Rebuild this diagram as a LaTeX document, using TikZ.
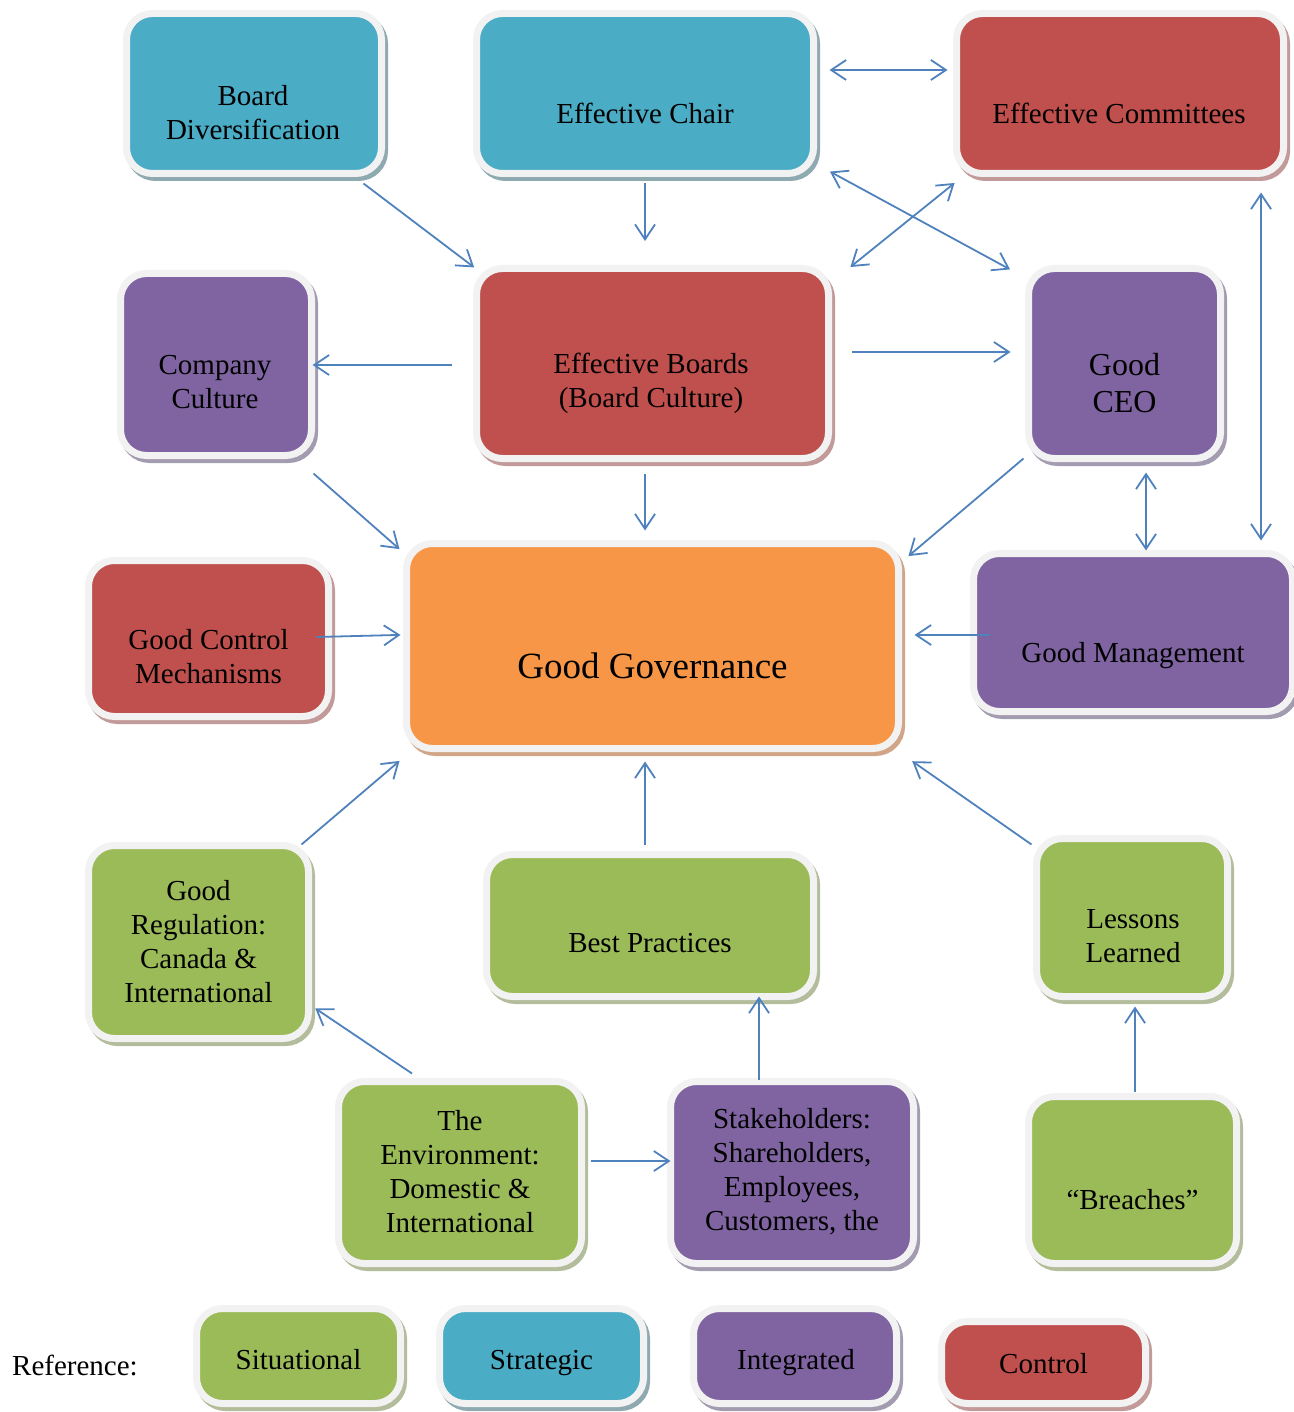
\documentclass[tikz,border=0pt]{standalone}
\usepackage{fontspec}
\setmainfont{Liberation Serif}
\usetikzlibrary{arrows.meta,calc}

\definecolor{cblue}{HTML}{4BACC6}
\definecolor{cred}{HTML}{C0504D}
\definecolor{cpurple}{HTML}{8064A2}
\definecolor{cgreen}{HTML}{9BBB59}
\definecolor{corange}{HTML}{F79646}
\definecolor{sblue}{HTML}{8FA9B1}
\definecolor{sred}{HTML}{C39A9A}
\definecolor{spurple}{HTML}{A39CB0}
\definecolor{sgreen}{HTML}{B3BC9B}
\definecolor{sorange}{HTML}{D1A587}
\definecolor{edgegray}{HTML}{F2F2F2}
\definecolor{linkblue}{HTML}{4F81BD}

\tikzset{
  box/.style n args={4}{rectangle, rounded corners=26pt, draw=edgegray,
    line width=7pt, inner sep=0pt, fill=#1,
    minimum width=#3, minimum height=#4,
    preaction={draw=#2, fill=#2, transform canvas={shift={(3pt,-4pt)}}}},
  txt/.style={align=center, inner sep=0pt,
    font=\fontsize{29}{34}\selectfont},
  midtxt/.style={align=center, inner sep=0pt,
    font=\fontsize{32}{37}\selectfont},
  bigtxt/.style={align=center, inner sep=0pt,
    font=\fontsize{37}{42}\selectfont},
  link/.style={draw=linkblue, line width=1.8pt, shorten >=-4pt,
    >={Straight Barb[length=15pt,width=20pt]}},
  link2/.style={link, shorten <=-4pt},
}

\begin{document}
\begin{tikzpicture}[x=1pt,y=-1pt]
\useasboundingbox (0,0) rectangle (1293,1412);

% ---- top row
\node[box={cblue}{sblue}{255pt}{160pt}] (bd) at (254,93.5) {};
\node[txt] (bdt) at ($(bd.center)+(-1,19)$) {Board\\Diversification};
\node[box={cblue}{sblue}{337pt}{160pt}] (ec) at (645,93.5) {};
\node[txt] (ect) at ($(ec.center)+(0,19.5)$) {Effective Chair};
\node[box={cred}{sred}{327pt}{160pt}] (cm) at (1120,93.5) {};
\node[txt] (cmt) at ($(cm.center)+(-1,19.5)$) {Effective Committees};

% ---- second row
\node[box={cpurple}{spurple}{191pt}{182pt}] (cc) at (216,364.5) {};
\node[txt] (cct) at ($(cc.center)+(-1,17.5)$) {Company\\Culture};
\node[box={cred}{sred}{352pt}{190pt}] (eb) at (652.5,363.5) {};
\node[txt] (ebt) at ($(eb.center)+(-1.5,20)$) {Effective Boards\\(Board Culture)};
\node[box={cpurple}{spurple}{192pt}{190pt}] (ceo) at (1124.5,363.5) {};
\node[midtxt] (ceot) at ($(ceo.center)+(0,19.5)$) {Good\\CEO};

% ---- centre row
\node[box={cred}{sred}{240pt}{156pt}] (gcm) at (208.5,638.5) {};
\node[txt] (gcmt) at ($(gcm.center)+(0,18.5)$) {Good Control\\Mechanisms};
\node[box={corange}{sorange}{492pt}{205pt}] (gg) at (652.5,646) {};
\node[bigtxt] (ggt) at ($(gg.center)+(0,20)$) {Good Governance};
\node[box={cpurple}{spurple}{319pt}{158pt}] (gm) at (1133,632.5) {};
\node[txt] (gmt) at ($(gm.center)+(0,23)$) {Good Management};

% ---- fourth row
\node[box={cgreen}{sgreen}{220pt}{193pt}] (gr) at (198.5,942) {};
\node[txt] (grt) at ($(gr.center)+(0,0)$) {Good\\Regulation:\\Canada \&\\International};
\node[box={cgreen}{sgreen}{327pt}{142pt}] (bp) at (650,925.5) {};
\node[txt] (bpt) at ($(bp.center)+(0,17.5)$) {Best Practices};
\node[box={cgreen}{sgreen}{191pt}{158pt}] (ll) at (1132,917.5) {};
\node[txt] (llt) at ($(ll.center)+(1,18.5)$) {Lessons\\Learned};

% ---- fifth row
\node[box={cgreen}{sgreen}{243pt}{182pt}] (env) at (460,1172.5) {};
\node[txt] (envt) at ($(env.center)+(0,-0.5)$) {The\\Environment:\\Domestic \&\\International};
\node[box={cpurple}{spurple}{243pt}{182pt}] (sh) at (792,1172.5) {};
\node[txt] (sht) at ($(sh.center)+(0,-0.5)$) {Stakeholders:\\Shareholders,\\Employees,\\Customers, the};
\node[box={cgreen}{sgreen}{208pt}{167pt}] (br) at (1132.5,1180) {};
\node[txt] (brt) at ($(br.center)+(0,20)$) {“Breaches”};

% ---- legend
\node[txt, anchor=west] (ref) at (12,1365) {Reference:};
\node[box={cgreen}{sgreen}{204pt}{95pt}] (sit) at (298.5,1356) {};
\node[txt] (sitt) at ($(sit.center)+(0,4)$) {Situational};
\node[box={cblue}{sblue}{204pt}{95pt}] (str) at (541.5,1356) {};
\node[txt] (strt) at ($(str.center)+(0,7)$) {Strategic};
\node[box={cpurple}{spurple}{203pt}{95pt}] (int) at (795,1356) {};
\node[txt] (intt) at ($(int.center)+(1,7)$) {Integrated};
\node[box={cred}{sred}{204pt}{82pt}] (ctl) at (1043.5,1362.5) {};
\node[txt] (ctlt) at ($(ctl.center)+(0,1.5)$) {Control};

% ---- connectors
\draw[link,->] ($(bd.south east)+(-21.5,6.5)$) -- ($(eb.north west)+(-2,0)$);
\draw[link,->] ($(ec.south)+(0,6.5)$) -- ($(eb.north)+(-7.5,-28)$);
\draw[link2,<->] ($(ec.east)+(16.5,-23.5)$) -- ($(cm.west)+(-9.5,-23.5)$);
\draw[link2,<->] ($(ec.south east)+(16.5,-3.5)$) -- ($(ceo.north west)+(-18.5,2.5)$);
\draw[link2,<->] ($(eb.north east)+(21.5,-0.5)$) -- ($(cm.south west)+(-1.5,8.5)$);
\draw[link2,<->] ($(cm.south)+(141,19.5)$) -- ($(gm.north)+(128,-13.5)$);
\draw[link,->] ($(eb.west)+(-21.5,1.5)$) -- ($(cc.east)+(1.5,0.5)$);
\draw[link,->] ($(eb.east)+(19.5,-11.5)$) -- ($(ceo.west)+(-18.5,-11.5)$);
\draw[link,->] ($(eb.south)+(-7.5,11.5)$) -- ($(gg.north)+(-7.5,-13.5)$);
\draw[link,->] ($(cc.south east)+(-1.5,14.5)$) -- ($(gg.north west)+(-6.5,6.5)$);
\draw[link,->] ($(ceo.south west)+(-1.5,-3.5)$) -- ($(gg.north east)+(9.5,13.5)$);
\draw[link2,<->] ($(ceo.south)+(21.5,14.5)$) -- ($(gm.north)+(13,-3.5)$);
\draw[link,->] ($(gcm.east)+(-15.5,-1.5)$) -- ($(gg.west)+(-6.5,-11)$);
\draw[link,->] ($(gm.west)+(19.5,2.5)$) -- ($(gg.east)+(16.5,-11)$);
\draw[link,->] ($(gr.north east)+(-10.5,2.5)$) -- ($(gg.south west)+(-6.5,11.5)$);
\draw[link,->] ($(bp.north)+(-5,-6.5)$) -- ($(gg.south)+(-7.5,13.5)$);
\draw[link,->] ($(ll.north west)+(-1.5,9.5)$) -- ($(gg.south east)+(13.5,11.5)$);
\draw[link,->] ($(env.north)+(-48,-4.5)$) -- ($(gr.south east)+(6.5,-31.5)$);
\draw[link,->] ($(env.east)+(5.5,-11.5)$) -- ($(sh.west)+(-0.5,-11.5)$);
\draw[link,->] ($(sh.north)+(-33,1.5)$) -- ($(bp.south)+(109,0.5)$);
\draw[link,->] ($(br.north)+(2.5,-1.5)$) -- ($(ll.south)+(3,10.5)$);
\end{tikzpicture}
\end{document}
